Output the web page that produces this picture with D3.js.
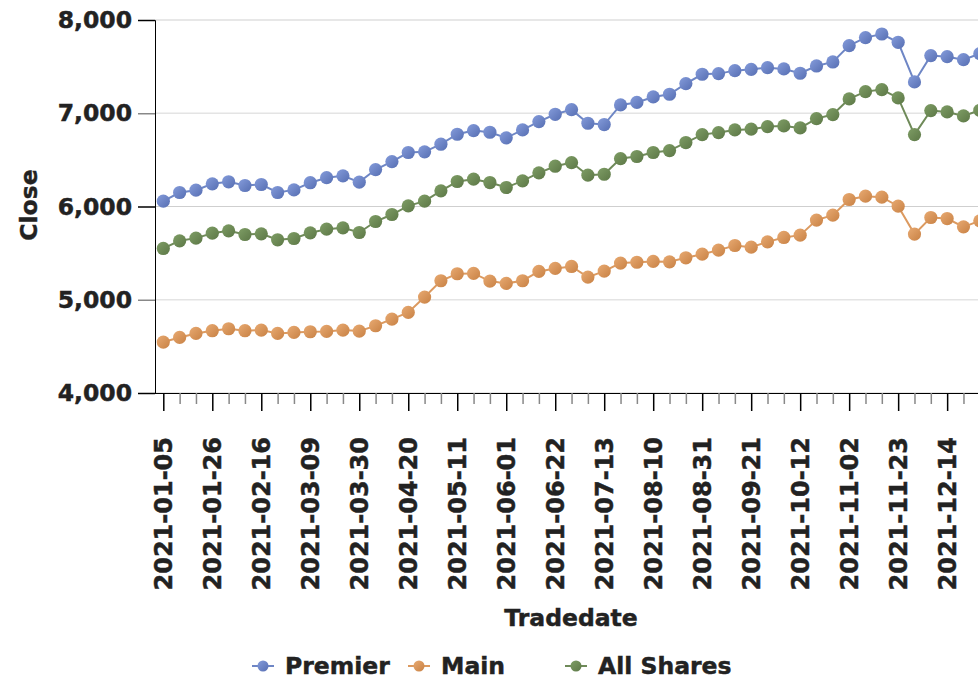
<!DOCTYPE html>
<html>
<head>
<meta charset="utf-8">
<script src="https://cdn.jsdelivr.net/npm/d3@7"></script>
<style>
  body { margin: 0; background: #fff; }
  svg { display: block; }
  svg text { font-family: "DejaVu Sans", Verdana, sans-serif; font-weight: bold; fill: #222; stroke: #222; stroke-width: 0.45px; }
</style>
</head>
<body>
<div id="chart"></div>
<script>
// weekly trade dates (07-20 has no data)
let tradeDates = ["2021-01-05","2021-01-12","2021-01-19","2021-01-26","2021-02-02","2021-02-09","2021-02-16","2021-02-23",
  "2021-03-02","2021-03-09","2021-03-16","2021-03-23","2021-03-30","2021-04-06","2021-04-13","2021-04-20","2021-04-27",
  "2021-05-04","2021-05-11","2021-05-18","2021-05-25","2021-06-01","2021-06-08","2021-06-15","2021-06-22","2021-06-29",
  "2021-07-06","2021-07-13","2021-07-27","2021-08-03","2021-08-10","2021-08-17","2021-08-24","2021-08-31","2021-09-07",
  "2021-09-14","2021-09-21","2021-09-28","2021-10-05","2021-10-12","2021-10-19","2021-10-26","2021-11-02","2021-11-09",
  "2021-11-16","2021-11-23","2021-11-30","2021-12-07","2021-12-14","2021-12-21","2021-12-28"];

let premier = [6057,6150,6175,6243,6265,6225,6236,6150,6178,6255,6309,
  6329,6261,6396,6482,6579,6586,6668,6775,6814,6796,
  6736,6821,6911,6989,7039,6893,6879,7089,7116,7175,
  7204,7318,7418,7425,7457,7471,7489,7475,7429,7507,
  7550,7725,7811,7850,7761,7336,7618,7607,7575,7639];

let main = [4546,4596,4639,4668,4689,4668,4675,4639,4650,4657,4660,
  4675,4664,4721,4793,4864,5029,5204,5279,5282,5200,
  5175,5204,5304,5336,5357,5243,5307,5393,5402,5411,
  5407,5450,5489,5532,5582,5564,5621,5668,5693,5854,
  5907,6075,6111,6100,6004,5704,5882,5871,5782,5846];

let allShares = [5550,5632,5661,5714,5739,5700,5707,5643,5657,5718,5757,
  5771,5721,5839,5914,6007,6057,6168,6268,6293,6257,
  6204,6275,6361,6432,6471,6336,6346,6514,6536,6579,
  6600,6686,6771,6793,6821,6829,6857,6864,6843,6943,
  6986,7154,7232,7254,7164,6771,7029,7014,6971,7032];

let yTicks = [4000, 5000, 6000, 7000, 8000];

let series = [
  { name: "Premier", values: premier, light: "#859cdb", dark: "#566eb2", line: "#6e86c5" },
  { name: "Main", values: main, light: "#e8aa72", dark: "#c88144", line: "#dc9a60" },
  { name: "All Shares", values: allShares, light: "#7f9e66", dark: "#5c7746", line: "#6f8a59" }
];

let chartWidth = 978, chartHeight = 681;
let plotLeft = 155, plotTop = 20, plotBottom = 393;
let step = 16.33;

var svg = d3.select("#chart").append("svg")
  .attr("width", chartWidth)
  .attr("height", chartHeight);

var defs = svg.append("defs");
series.forEach(function(s, i) {
  var g = defs.append("linearGradient")
    .attr("id", "grad" + i)
    .attr("x1", "0").attr("y1", "0").attr("x2", "1").attr("y2", "1");
  g.append("stop").attr("offset", "0%").attr("stop-color", s.light);
  g.append("stop").attr("offset", "100%").attr("stop-color", s.dark);
});

var x = d3.scalePoint()
  .domain(tradeDates)
  .range([plotLeft + 8.3, plotLeft + 8.3 + step * (tradeDates.length - 1)]);

var y = d3.scaleLinear()
  .domain([4000, 8000])
  .range([plotBottom, plotTop]);

// gridlines
svg.append("g").selectAll("line")
  .data(yTicks)
  .enter().append("line")
  .attr("x1", plotLeft)
  .attr("x2", chartWidth)
  .attr("y1", function(d) { return y(d); })
  .attr("y2", function(d) { return y(d); })
  .style("stroke", function(d) { return d % 2000 == 0 ? "#cfcfcf" : "#e4e4e4"; })
  .style("stroke-width", function(d) { return d % 2000 == 0 ? 1 : 1.5; });

// y axis
var yAxis = svg.append("g")
  .attr("transform", "translate(" + plotLeft + ",0)")
  .call(d3.axisLeft(y).tickValues(yTicks).tickSize(17).tickPadding(6).tickFormat(d3.format(",")));
yAxis.attr("font-family", null).attr("font-size", null);
yAxis.select(".domain").style("stroke", "#000");
yAxis.selectAll(".tick line")
  .style("stroke", function(d) { return d % 2000 == 0 ? "#000" : "#888"; })
  .style("stroke-width", 1.5);
yAxis.selectAll("text")
  .style("font-size", "23.5px");

// x axis
var xAxis = svg.append("g")
  .attr("transform", "translate(0," + plotBottom + ")")
  .call(d3.axisBottom(x).tickSizeOuter(0).tickSize(11));
xAxis.attr("font-family", null).attr("font-size", null);
xAxis.select(".domain").style("stroke", "#000").attr("d", "M" + plotLeft + ",0.5H" + chartWidth);
xAxis.selectAll(".tick line")
  .attr("y2", function(d, i) { return i % 3 == 0 ? 18 : 11; })
  .style("stroke", function(d, i) { return i % 3 == 0 ? "#000" : "#888"; })
  .style("stroke-width", 1.5);
xAxis.selectAll(".tick text")
  .text(function(d, i) { return i % 3 == 0 ? d : ""; })
  .attr("transform", "rotate(-90)")
  .attr("text-anchor", "end")
  .attr("x", -44)
  .attr("y", 0)
  .attr("dy", "0.36em")
  .style("font-size", "24px");

// axis titles
svg.append("text")
  .attr("transform", "translate(37,205) rotate(-90)")
  .attr("text-anchor", "middle")
  .style("font-size", "23.5px")
  .text("Close");

svg.append("text")
  .attr("x", 571)
  .attr("y", 626)
  .attr("text-anchor", "middle")
  .style("font-size", "23.5px")
  .text("Tradedate");

// lines and points
var line = d3.line()
  .x(function(d, i) { return x(tradeDates[i]); })
  .y(function(d) { return y(d); });

series.forEach(function(s, si) {
  svg.append("path")
    .datum(s.values)
    .attr("d", line)
    .style("fill", "none")
    .style("stroke", s.line)
    .style("stroke-width", 2);

  svg.append("g").selectAll("circle")
    .data(s.values)
    .enter().append("circle")
    .attr("cx", function(d, i) { return x(tradeDates[i]); })
    .attr("cy", function(d) { return y(d); })
    .attr("r", 6.6)
    .style("fill", "url(#grad" + si + ")");
});

// legend
var legendX = [263, 419, 576];
var legend = svg.selectAll(".legend")
  .data(series)
  .enter().append("g")
  .attr("class", "legend")
  .attr("transform", function(d, i) { return "translate(" + legendX[i] + ",666)"; });
legend.append("line")
  .attr("x1", -11).attr("x2", 11)
  .style("stroke", function(d) { return d.line; })
  .style("stroke-width", 2);
legend.append("circle")
  .attr("r", 5.5)
  .style("fill", function(d, i) { return "url(#grad" + i + ")"; });
legend.append("text")
  .attr("x", 22)
  .attr("dy", "0.36em")
  .style("font-size", "23.5px")
  .text(function(d) { return d.name; });
</script>
</body>
</html>
